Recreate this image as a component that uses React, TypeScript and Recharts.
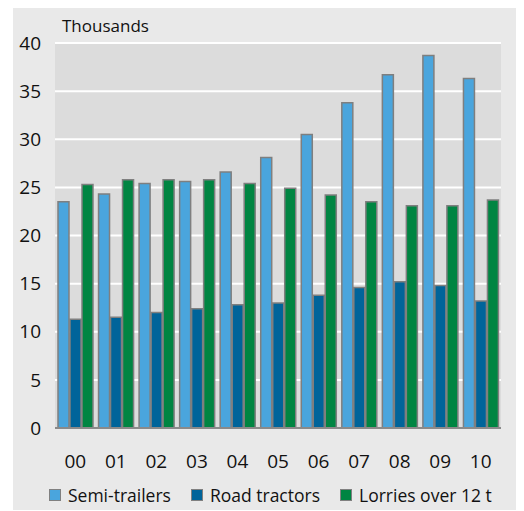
import React from "react";
import { BarChart, Bar, XAxis, YAxis, CartesianGrid } from "recharts";

const years = ["00", "01", "02", "03", "04", "05", "06", "07", "08", "09", "10"];
const semiTrailers = [23.5, 24.3, 25.4, 25.6, 26.6, 28.1, 30.5, 33.8, 36.7, 38.7, 36.3];
const roadTractors = [11.3, 11.5, 12.0, 12.4, 12.8, 13.0, 13.8, 14.6, 15.2, 14.8, 13.2];
const lorries = [25.3, 25.8, 25.8, 25.8, 25.4, 24.9, 24.2, 23.5, 23.1, 23.1, 23.7];
const yTicks = [0, 5, 10, 15, 20, 25, 30, 35, 40];

const series = [
  { key: "semi", name: "Semi-trailers", color: "#4aa5dd" },
  { key: "road", name: "Road tractors", color: "#00649a" },
  { key: "lorries", name: "Lorries over 12 t", color: "#008542" },
];

const data = years.map((y, i) => ({
  year: y,
  semi: semiTrailers[i],
  road: roadTractors[i],
  lorries: lorries[i],
}));

const FONT = "'Open Sans', sans-serif";

const LegendBlock = () => (
  <div style={{ position: "absolute", left: 36, top: 478, display: "flex", alignItems: "center", fontFamily: FONT, fontSize: 17.5, color: "#111", whiteSpace: "nowrap", lineHeight: "20px" }}>
    {series.map((s) => (
      <div key={s.key} style={{ display: "flex", alignItems: "center", marginRight: 20 }}>
        <div style={{ width: 10, height: 10, background: s.color, border: "1.5px solid #808080", marginRight: 7 }} />
        <span>{s.name}</span>
      </div>
    ))}
  </div>
);

export default function App() {
  return (
    <div style={{ position: "relative", left: 5, top: -1, width: 509, height: 503, background: "#e9e9e9" }}>
      <div style={{ position: "absolute", left: 49, top: 7, fontFamily: FONT, fontSize: 17, color: "#111" }}>Thousands</div>
      <BarChart
        width={509}
        height={503}
        data={data}
        margin={{ top: 36, right: 21, left: 0, bottom: 32 }}
        barGap={1}
        barCategoryGap={3}
      >
        <CartesianGrid vertical={false} fill="#dcdcdc" stroke="#ffffff" strokeWidth={2} />
        <XAxis
          dataKey="year"
          height={50}
          tickLine={false}
          tickSize={0}
          tickMargin={27}
          axisLine={{ stroke: "#8a8a8a", strokeWidth: 2 }}
          tick={{ fontFamily: FONT, fontSize: 19, fill: "#111" }}
        />
        <YAxis
          width={42}
          domain={[0, 40]}
          ticks={yTicks}
          interval={0}
          axisLine={false}
          tickLine={false}
          tickSize={0}
          tickMargin={14}
          tick={{ fontFamily: FONT, fontSize: 19, fill: "#111" }}
        />
        {series.map((s) => (
          <Bar key={s.key} dataKey={s.key} name={s.name} fill={s.color} stroke="#7f7f7f" strokeWidth={1.5} barSize={11} isAnimationActive={false} />
        ))}
      </BarChart>
      <LegendBlock />
    </div>
  );
}
